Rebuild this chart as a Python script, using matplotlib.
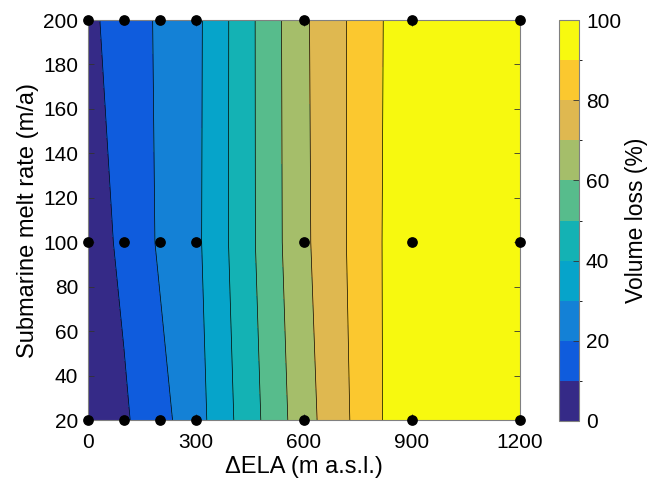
import numpy as np
import matplotlib
matplotlib.use('Agg')
import matplotlib.pyplot as plt
from matplotlib.colors import ListedColormap, BoundaryNorm

plt.rcParams['font.family'] = ['Liberation Sans', 'DejaVu Sans']

# Model runs: change in ELA (m) x submarine melt rate (m/a)
dela = [0, 100, 200, 300, 600, 900, 1200]
melt = [20, 100, 200]
# Volume loss (%) per run, one row per melt rate
loss_20 = [3.0, 8.6, 16.8, 26.0, 66.0, 99.0, 100.0]
loss_100 = [5.0, 12.1, 21.3, 27.9, 68.1, 98.4, 100.0]
loss_200 = [7.0, 16.1, 21.0, 27.6, 68.5, 97.8, 100.0]

levels = [0, 10, 20, 30, 40, 50, 60, 70, 80, 90, 100]
x_ticks = [0, 300, 600, 900, 1200]
y_ticks = [20, 40, 60, 80, 100, 120, 140, 160, 180, 200]
cb_ticks = [0, 20, 40, 60, 80, 100]

# parula-like colours for the 10 bands
band_colors = ['#352a87', '#0f5cdd', '#1481d6', '#06a4ca', '#14b2b4',
               '#57bc8c', '#a5be6a', '#dfb850', '#fbc82f', '#f7f90f']
cmap = ListedColormap(band_colors)
norm = BoundaryNorm(levels, cmap.N)

X, Y = np.meshgrid(dela, melt)
Z = np.array([loss_20, loss_100, loss_200])

fig = plt.figure(figsize=(6.54, 4.84), dpi=100)
ax = fig.add_axes([88 / 654, 1 - 420 / 484, 432 / 654, 400 / 484])
cax = fig.add_axes([559 / 654, 1 - 421 / 484, 20 / 654, 401 / 484])

cf = ax.contourf(X, Y, Z, levels=levels, cmap=cmap, norm=norm)
ax.contour(X, Y, Z, levels=levels[1:-1], colors='k', linewidths=0.5)
ax.plot(X.ravel(), Y.ravel(), 'o', color='k', ms=6.7, clip_on=False, zorder=5)

ax.set_xlim(0, 1200)
ax.set_ylim(20, 200)
ax.set_xticks(x_ticks)
ax.set_yticks(y_ticks)
ax.tick_params(direction='in', length=4, width=0.6, color='#333333',
               labelsize=15, pad=7, top=True, right=True)
ax.tick_params(axis='x', pad=9)
for s in ax.spines.values():
    s.set_color('#808080')
    s.set_linewidth(0.8)
ax.set_xlabel('\u0394ELA (m a.s.l.)', fontsize=17, labelpad=3)
ax.set_ylabel('Submarine melt rate (m/a)', fontsize=17, labelpad=3)

cb = fig.colorbar(cf, cax=cax, ticks=cb_ticks)
cb.outline.set_edgecolor('#808080')
cb.outline.set_linewidth(0.8)
cax.tick_params(direction='in', length=4, width=0.6, color='#333333',
                labelsize=15, pad=5)
cb.set_label('Volume loss (%)', fontsize=16.5, labelpad=3)

fig.savefig('out.png', dpi=100)
